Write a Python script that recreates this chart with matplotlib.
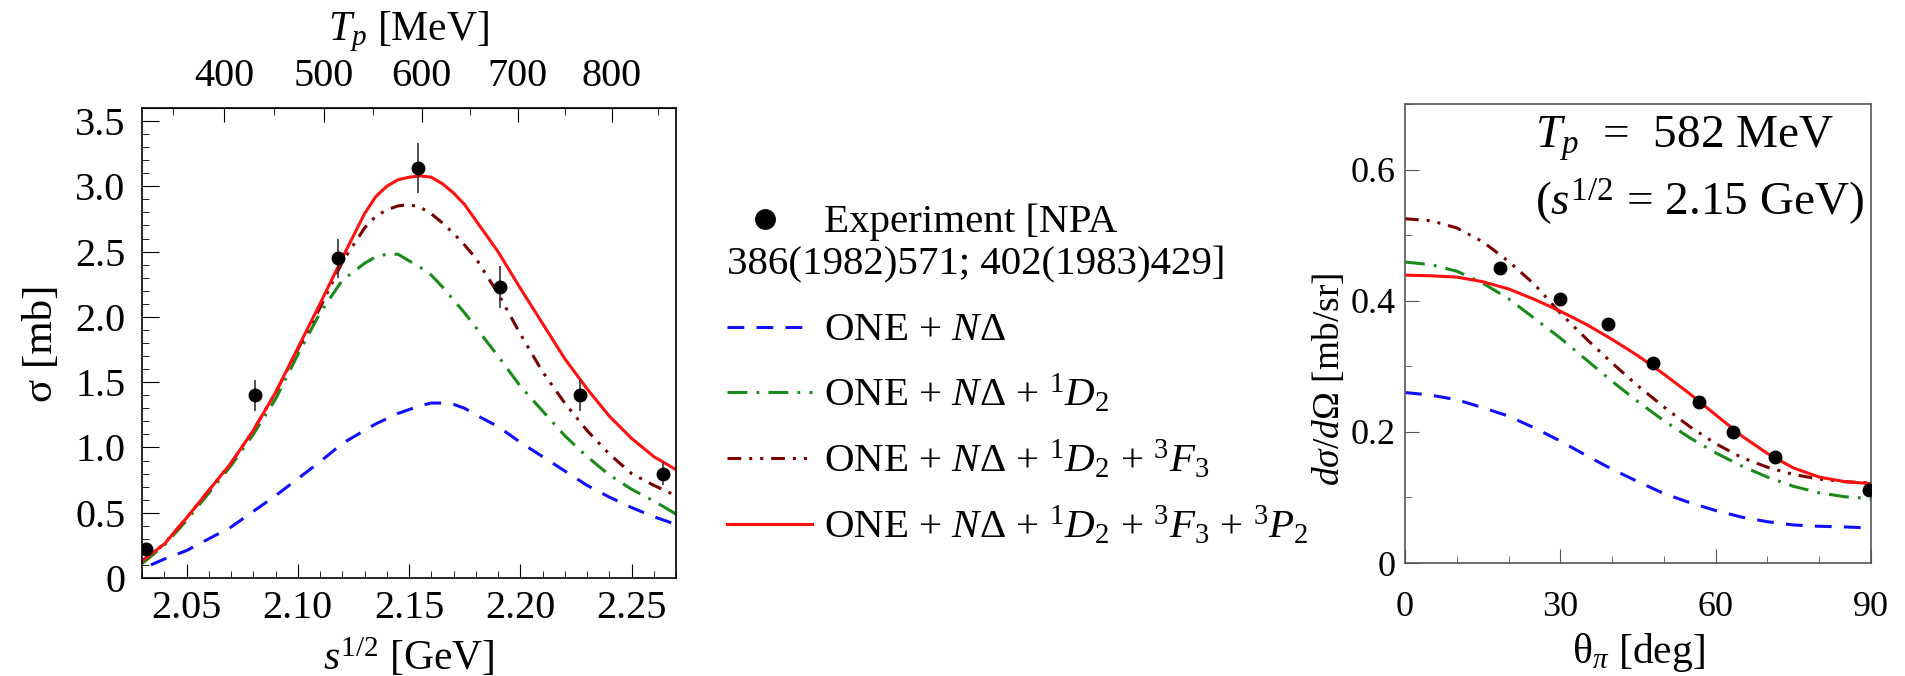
import numpy as np
import matplotlib.pyplot as plt
from matplotlib.ticker import MultipleLocator, FuncFormatter

plt.rcParams['font.family'] = ['Liberation Serif', 'DejaVu Serif']
plt.rcParams['mathtext.fontset'] = 'custom'
plt.rcParams['mathtext.rm'] = 'Liberation Serif'
plt.rcParams['mathtext.it'] = 'Liberation Serif:italic'
plt.rcParams['mathtext.bf'] = 'Liberation Serif:bold'

# ---- left panel: total cross section vs sqrt(s) ----
sqrts_exp = [2.032, 2.081, 2.118, 2.154, 2.191, 2.227, 2.264]
sigma_exp = [0.22, 1.40, 2.45, 3.14, 2.23, 1.40, 0.80]
sigma_err = [0.04, 0.12, 0.15, 0.19, 0.16, 0.12, 0.09]

sqrts_grid = [2.03, 2.04, 2.05, 2.06, 2.07, 2.08, 2.09, 2.10, 2.11, 2.12, 2.13,
              2.135, 2.14, 2.145, 2.15, 2.155, 2.16, 2.165, 2.17, 2.175, 2.18,
              2.19, 2.20, 2.21, 2.22, 2.23, 2.24, 2.25, 2.26, 2.27]
sig_full = [0.13, 0.26, 0.46, 0.67, 0.88, 1.13, 1.42, 1.76, 2.10, 2.45, 2.79,
            2.92, 3.00, 3.05, 3.07, 3.08, 3.07, 3.02, 2.95, 2.86, 2.74,
            2.50, 2.22, 1.95, 1.68, 1.45, 1.24, 1.07, 0.93, 0.83]
sig_f3 = [0.13, 0.26, 0.46, 0.67, 0.88, 1.13, 1.42, 1.75, 2.07, 2.42, 2.68,
          2.77, 2.82, 2.85, 2.86, 2.84, 2.79, 2.72, 2.64, 2.55, 2.45,
          2.18, 1.87, 1.58, 1.34, 1.13, 0.95, 0.80, 0.71, 0.63]
sig_d2 = [0.11, 0.25, 0.44, 0.65, 0.86, 1.10, 1.37, 1.71, 2.03, 2.28, 2.41,
          2.46, 2.48, 2.48, 2.43, 2.38, 2.32, 2.23, 2.13, 2.03, 1.92,
          1.70, 1.47, 1.28, 1.09, 0.93, 0.79, 0.68, 0.59, 0.49]
sqrts_grid_nd = [2.034, 2.04, 2.05, 2.06, 2.07, 2.08, 2.09, 2.10, 2.11, 2.12, 2.13,
                 2.135, 2.14, 2.145, 2.15, 2.155, 2.16, 2.165, 2.17, 2.175, 2.18,
                 2.19, 2.20, 2.21, 2.22, 2.23, 2.24, 2.25, 2.26, 2.27]
sig_nd = [0.10, 0.145, 0.21, 0.30, 0.39, 0.51, 0.63, 0.76, 0.89, 1.03, 1.13,
          1.18, 1.22, 1.26, 1.29, 1.32, 1.34, 1.34, 1.33, 1.30, 1.25,
          1.16, 1.04, 0.93, 0.82, 0.71, 0.62, 0.54, 0.47, 0.41]

# ---- right panel: angular distribution at Tp = 582 MeV ----
theta_exp = [18.3, 30.0, 39.2, 47.9, 56.8, 63.3, 71.5, 89.6]
dsig_exp = [0.450, 0.403, 0.364, 0.305, 0.246, 0.200, 0.161, 0.111]

theta_grid = [0, 5, 10, 15, 20, 25, 30, 35, 40, 45, 50, 55, 60, 65, 70, 75, 80, 85, 90]
dsig_full = [0.439, 0.438, 0.436, 0.429, 0.418, 0.402, 0.384, 0.364, 0.341, 0.316,
             0.288, 0.258, 0.226, 0.194, 0.167, 0.145, 0.131, 0.124, 0.121]
dsig_f3 = [0.525, 0.522, 0.511, 0.490, 0.460, 0.425, 0.381, 0.342, 0.305, 0.270,
           0.238, 0.208, 0.182, 0.161, 0.146, 0.135, 0.128, 0.124, 0.122]
dsig_d2 = [0.459, 0.455, 0.445, 0.427, 0.403, 0.373, 0.343, 0.310, 0.277, 0.246,
           0.217, 0.191, 0.168, 0.148, 0.131, 0.117, 0.107, 0.101, 0.098]
theta_grid_nd = [0, 5, 10, 15, 20, 25, 30, 35, 40, 45, 50, 55, 60, 65, 70, 75, 80, 85, 88]
dsig_nd = [0.260, 0.256, 0.249, 0.237, 0.224, 0.206, 0.186, 0.164, 0.143, 0.124,
           0.106, 0.092, 0.080, 0.070, 0.063, 0.058, 0.056, 0.055, 0.054]

labels = [r'ONE + $N\Delta$',
          r'ONE + $N\Delta$ + ${}^1D_2$',
          r'ONE + $N\Delta$ + ${}^1D_2$ + ${}^3F_3$',
          r'ONE + $N\Delta$ + ${}^1D_2$ + ${}^3F_3$ + ${}^3P_2$']
colors = ['#1010ff', '#1a8a1a', '#7a0000', '#ff1010']
dashes = [(5.5, 4), (6.5, 3, 0.9, 3), (4.5, 2.6, 1, 2.6, 1, 2.6), ()]

M_P = 938.27  # proton mass, MeV


def sqrts_to_tp(x):
    s = (np.asarray(x, dtype=float) * 1000.0) ** 2
    return (s - 4 * M_P ** 2) / (2 * M_P)


def tp_to_sqrts(t):
    v = 4 * M_P ** 2 + 2 * M_P * np.asarray(t, dtype=float)
    return np.sqrt(np.clip(v, 0, None)) / 1000.0


W, H = 1905, 676
fig = plt.figure(figsize=(W / 100, H / 100), dpi=100)

# legend drawn in figure pixel space
lax = fig.add_axes([0, 0, 1, 1])
lax.set_xlim(0, W)
lax.set_ylim(H, 0)
lax.axis('off')

ax1 = fig.add_axes([142 / W, 98 / H, 534 / W, 470 / H])
ax2 = fig.add_axes([1405 / W, 113 / H, 466 / W, 459 / H])

curves_left = [(sqrts_grid_nd, sig_nd), (sqrts_grid, sig_d2),
               (sqrts_grid, sig_f3), (sqrts_grid, sig_full)]
curves_right = [(theta_grid_nd, dsig_nd), (theta_grid, dsig_d2),
                (theta_grid, dsig_f3), (theta_grid, dsig_full)]

for i in range(4):
    x, y = curves_left[i]
    ln, = ax1.plot(x, y, color=colors[i], lw=2.2, zorder=2)
    if dashes[i]:
        ln.set_dashes(dashes[i])
    x, y = curves_right[i]
    ln, = ax2.plot(x, y, color=colors[i], lw=2.2, zorder=2)
    if dashes[i]:
        ln.set_dashes(dashes[i])

ax1.errorbar(sqrts_exp, sigma_exp, yerr=sigma_err, fmt='o', color='black',
             ms=9, ecolor='#333333', elinewidth=1.2, capsize=0, zorder=3)
ax2.plot(theta_exp, dsig_exp, 'o', color='black', ms=9, zorder=3)

# left axes
ax1.set_xlim(2.03, 2.27)
ax1.set_ylim(0, 3.6)
ax1.xaxis.set_major_locator(MultipleLocator(0.05))
ax1.xaxis.set_minor_locator(MultipleLocator(0.01))
ax1.yaxis.set_major_locator(MultipleLocator(0.5))
ax1.yaxis.set_minor_locator(MultipleLocator(0.1))
ax1.xaxis.set_major_formatter(FuncFormatter(lambda v, p: f'{v:.2f}'))
ax1.yaxis.set_major_formatter(FuncFormatter(lambda v, p: '0' if abs(v) < 1e-9 else f'{v:.1f}'))
ax1.tick_params(which='both', direction='in', top=False, right=False, labelsize=29)
ax1.tick_params(axis='x', which='major', length=10, pad=9)
ax1.tick_params(axis='y', which='major', length=12, pad=12)
ax1.tick_params(which='minor', length=5)
ax1.set_xlabel(r'$s^{1/2}$ [GeV]', fontsize=30, labelpad=6)
ax1.set_ylabel('σ [mb]', fontsize=31, labelpad=10)
for sp in ax1.spines.values():
    sp.set_linewidth(1.2)

sec = ax1.secondary_xaxis('top', functions=(sqrts_to_tp, tp_to_sqrts))
sec.xaxis.set_major_locator(MultipleLocator(100))
sec.xaxis.set_minor_locator(MultipleLocator(50))
sec.tick_params(which='both', direction='in', labelsize=29, pad=9)
sec.tick_params(which='major', length=10)
sec.tick_params(which='minor', length=5)
sec.set_xlabel(r'$T_p$ [MeV]', fontsize=30, labelpad=13)

# right axes
grey = '#555555'
ax2.set_xlim(0, 90)
ax2.set_ylim(0, 0.7)
ax2.xaxis.set_major_locator(MultipleLocator(30))
ax2.xaxis.set_minor_locator(MultipleLocator(10))
ax2.yaxis.set_major_locator(MultipleLocator(0.2))
ax2.yaxis.set_minor_locator(MultipleLocator(0.1))
ax2.yaxis.set_major_formatter(FuncFormatter(lambda v, p: '0' if abs(v) < 1e-9 else f'{v:.1f}'))
ax2.tick_params(which='both', direction='in', top=False, right=False, labelsize=26,
                color=grey)
ax2.tick_params(axis='x', which='major', length=10, pad=20)
ax2.tick_params(axis='y', which='major', length=10, pad=7)
ax2.tick_params(which='minor', length=5)
ax2.set_xlabel(r'θ${}_\pi$ [deg]', fontsize=30, labelpad=5)
ax2.set_ylabel(r'$d\sigma/d\Omega$ [mb/sr]', fontsize=27)
ax2.yaxis.set_label_coords(-0.125, 0.40)
for sp in ax2.spines.values():
    sp.set_color(grey)
    sp.set_linewidth(1.2)

ax2.text(0.279, 0.904, r'$T_p$  =  582 MeV', transform=ax2.transAxes,
         fontsize=34, va='baseline', ha='left')
ax2.text(0.279, 0.758, r'($s^{1/2}$ = 2.15 GeV)', transform=ax2.transAxes,
         fontsize=34, va='baseline', ha='left')

# legend
lax.plot([765], [219], 'o', color='black', ms=14)
lax.text(824, 232, 'Experiment [NPA', fontsize=29.5, va='baseline')
lax.text(727, 274, '386(1982)571; 402(1983)429]', fontsize=29.5, va='baseline')
row_y = [327, 392, 458, 524]
for i in range(4):
    ln, = lax.plot([727, 812], [row_y[i], row_y[i]], color=colors[i], lw=2.2)
    if dashes[i]:
        ln.set_dashes(dashes[i])
    lax.text(824, row_y[i] + 13, labels[i], fontsize=29.5, va='baseline')

fig.savefig('out.png', dpi=100)
